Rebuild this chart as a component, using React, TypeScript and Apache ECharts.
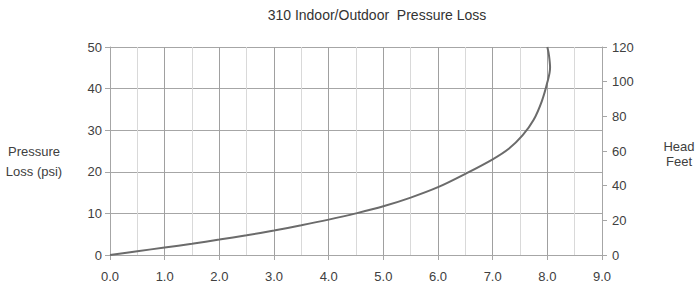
import React, { useEffect, useRef } from "react";
import * as echarts from "echarts";

const titleText = "310 Indoor/Outdoor  Pressure Loss";
const flowGpm = [0, 0.5, 1, 1.5, 2, 2.5, 3, 3.5, 4, 4.5, 5, 5.5, 6, 6.5, 7, 7.3, 7.55, 7.75, 7.9, 8.0, 8.05, 8.03, 8.0];
const pressurePsi = [0, 0.9, 1.8, 2.7, 3.7, 4.75, 5.9, 7.15, 8.5, 10.0, 11.7, 13.8, 16.3, 19.5, 23.0, 25.6, 28.8, 32.5, 37.0, 41.5, 45.0, 48.0, 50];
const leftNameLines = ["Pressure", "Loss (psi)"];
const rightNameLines = ["Head", "Feet"];

export default function App() {
  const ref = useRef<HTMLDivElement>(null);
  useEffect(() => {
    if (!ref.current) return;
    const chart = echarts.init(ref.current, null, { renderer: "svg" });
    const font = "'Liberation Sans', Arial, sans-serif";
    const txt = "#404040";
    chart.setOption({
      animation: false,
      textStyle: { fontFamily: font },
      title: {
        text: titleText,
        left: 372,
        top: 3,
        textAlign: "center",
        textStyle: { fontSize: 14, fontWeight: "normal", color: "#333", fontFamily: font },
      },
      grid: { left: 110, right: 95, top: 47, bottom: 33 },
      xAxis: {
        type: "value",
        min: 0,
        max: 9,
        interval: 1,
        axisLine: { show: true, lineStyle: { color: "#a6a6a6" } },
        axisTick: { show: true, length: 5, lineStyle: { color: "#a6a6a6" } },
        axisLabel: { color: txt, fontSize: 13, margin: 15, formatter: (v: number) => v.toFixed(1) },
        splitLine: { show: true, lineStyle: { color: "#a0a0a0", width: 1 } },
        minorTick: { show: false, splitNumber: 2 },
        minorSplitLine: { show: true, lineStyle: { color: "#d9d9d9", width: 1 } },
      },
      yAxis: [
        {
          type: "value",
          min: 0,
          max: 50,
          interval: 10,
          position: "left",
          axisLine: { show: true, lineStyle: { color: "#a6a6a6" } },
          axisTick: { show: true, length: 5, lineStyle: { color: "#a6a6a6" } },
          axisLabel: { color: txt, fontSize: 13, margin: 8 },
          splitLine: { show: true, lineStyle: { color: "#a6a6a6", width: 1 } },
        },
        {
          type: "value",
          min: 0,
          max: 120,
          interval: 20,
          position: "right",
          axisLine: { show: true, lineStyle: { color: "#a6a6a6" } },
          axisTick: { show: true, length: 5, lineStyle: { color: "#a6a6a6" } },
          axisLabel: { color: txt, fontSize: 13, margin: 10 },
          splitLine: { show: false },
        },
      ],
      graphic: [
        { type: "text", x: 34, y: 151, style: { text: leftNameLines[0], font: `13px ${font}`, fill: txt, align: "center", verticalAlign: "middle" } },
        { type: "text", x: 34, y: 171, style: { text: leftNameLines[1], font: `13px ${font}`, fill: txt, align: "center", verticalAlign: "middle" } },
        { type: "text", x: 679, y: 146, style: { text: rightNameLines[0], font: `13px ${font}`, fill: txt, align: "center", verticalAlign: "middle" } },
        { type: "text", x: 679, y: 161, style: { text: rightNameLines[1], font: `13px ${font}`, fill: txt, align: "center", verticalAlign: "middle" } },
      ],
      series: [
        {
          type: "line",
          yAxisIndex: 0,
          data: flowGpm.map((x, i) => [x, pressurePsi[i]]),
          smooth: 0.35,
          showSymbol: false,
          lineStyle: { color: "#6b6b6b", width: 2 },
        },
      ],
    });
    return () => chart.dispose();
  }, []);
  return <div ref={ref} style={{ width: 697, height: 288, position: "absolute", left: 0, top: 0 }} />;
}
